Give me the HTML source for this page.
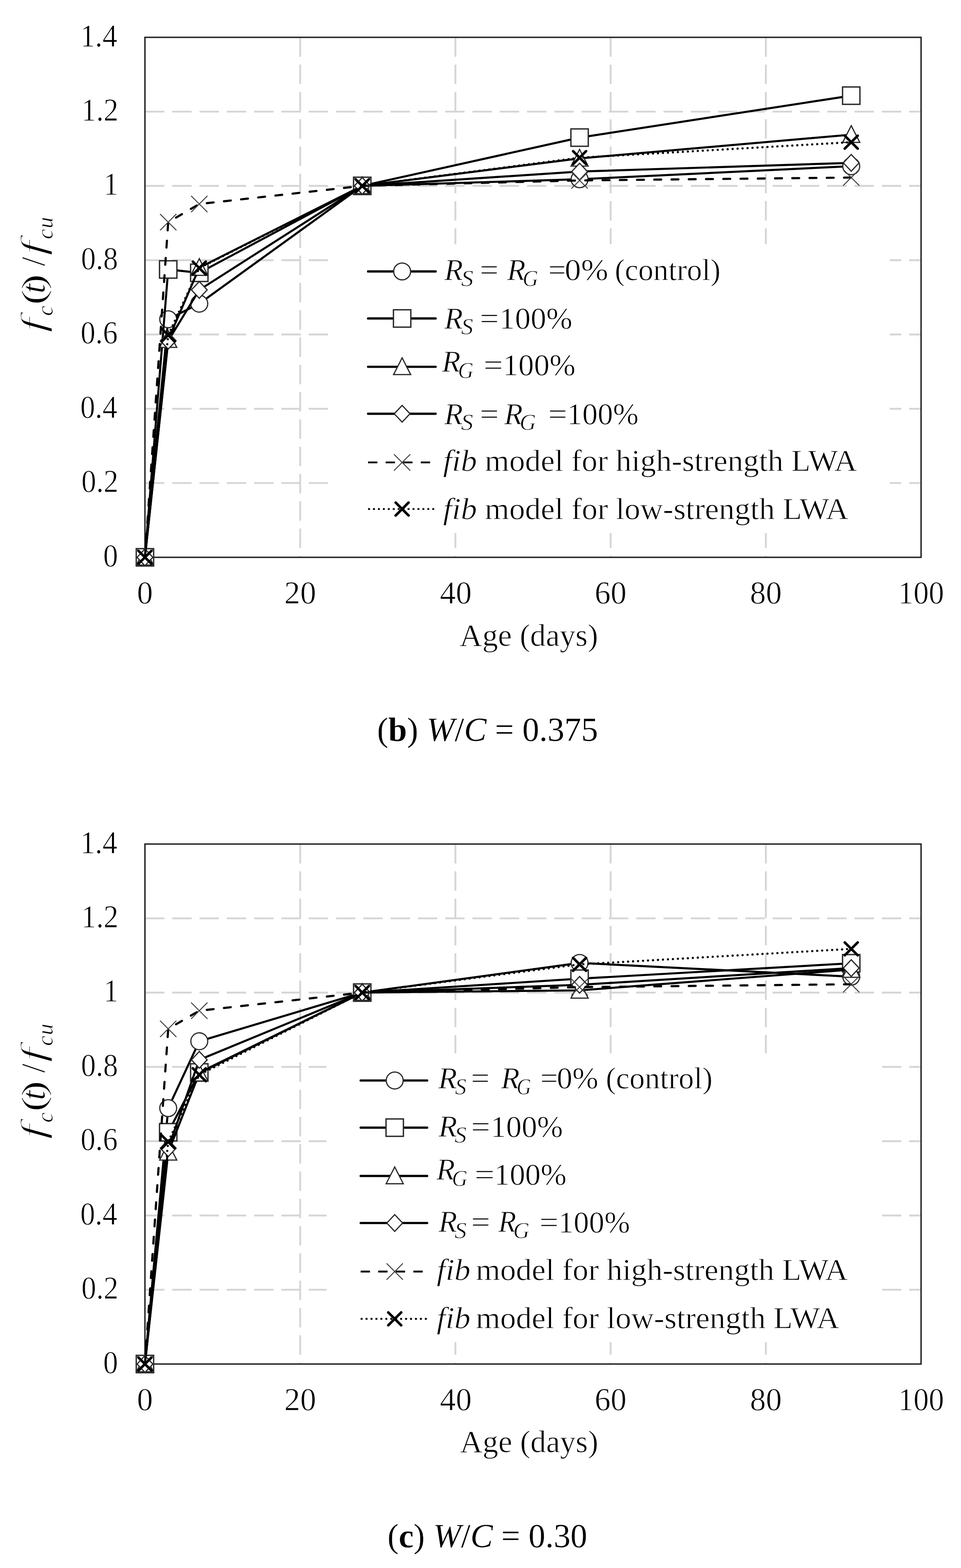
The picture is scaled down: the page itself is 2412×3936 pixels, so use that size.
<!DOCTYPE html>
<html><head><meta charset="utf-8"><title>Figure</title>
<style>
html,body{margin:0;padding:0;background:#fff;}
body{width:2412px;height:3936px;overflow:hidden;}
svg{display:block;}
.txt text{font-family:'Liberation Serif', 'Times New Roman', serif;fill:#000;stroke:#fff;stroke-width:1.1px;}
</style></head>
<body>
<svg width="2412" height="3936" viewBox="0 0 2412 3936">
<rect width="2412" height="3936" fill="#fff"/>
<line x1="363.8" y1="1212.5" x2="2311.8" y2="1212.5" stroke="#d5d5d5" stroke-width="4.6" stroke-dasharray="48.7 19.8"/>
<line x1="363.8" y1="1026.1" x2="2311.8" y2="1026.1" stroke="#d5d5d5" stroke-width="4.6" stroke-dasharray="48.7 19.8"/>
<line x1="363.8" y1="839.6" x2="2311.8" y2="839.6" stroke="#d5d5d5" stroke-width="4.6" stroke-dasharray="48.7 19.8"/>
<line x1="363.8" y1="653.1" x2="2311.8" y2="653.1" stroke="#d5d5d5" stroke-width="4.6" stroke-dasharray="48.7 19.8"/>
<line x1="363.8" y1="466.6" x2="2311.8" y2="466.6" stroke="#d5d5d5" stroke-width="4.6" stroke-dasharray="48.7 19.8"/>
<line x1="363.8" y1="280.2" x2="2311.8" y2="280.2" stroke="#d5d5d5" stroke-width="4.6" stroke-dasharray="48.7 19.8"/>
<line x1="753.4" y1="93.7" x2="753.4" y2="1399.0" stroke="#d5d5d5" stroke-width="4.6" stroke-dasharray="48.7 19.8"/>
<line x1="1143.0" y1="93.7" x2="1143.0" y2="1399.0" stroke="#d5d5d5" stroke-width="4.6" stroke-dasharray="48.7 19.8"/>
<line x1="1532.6" y1="93.7" x2="1532.6" y2="1399.0" stroke="#d5d5d5" stroke-width="4.6" stroke-dasharray="48.7 19.8"/>
<line x1="1922.2" y1="93.7" x2="1922.2" y2="1399.0" stroke="#d5d5d5" stroke-width="4.6" stroke-dasharray="48.7 19.8"/>
<rect x="839" y="613" width="1394" height="725" fill="#fff"/>
<rect x="363.8" y="93.7" width="1948.0" height="1305.3" fill="none" stroke="#262626" stroke-width="3.6"/>
<path d="M363.8 1399.0 L422.2 801.4 L500.2 762.2 L909.2 466.6 L1454.7 449.9 L2136.5 417.2" fill="none" stroke="#000" stroke-width="5.2" stroke-linejoin="round"/>
<circle cx="363.8" cy="1399.0" r="21.2" fill="#fff" stroke="#2a2a2a" stroke-width="3.0"/>
<circle cx="422.2" cy="801.4" r="21.2" fill="#fff" stroke="#2a2a2a" stroke-width="3.0"/>
<circle cx="500.2" cy="762.2" r="21.2" fill="#fff" stroke="#2a2a2a" stroke-width="3.0"/>
<circle cx="909.2" cy="466.6" r="21.2" fill="#fff" stroke="#2a2a2a" stroke-width="3.0"/>
<circle cx="1454.7" cy="449.9" r="21.2" fill="#fff" stroke="#2a2a2a" stroke-width="3.0"/>
<circle cx="2136.5" cy="417.2" r="21.2" fill="#fff" stroke="#2a2a2a" stroke-width="3.0"/>
<path d="M363.8 1399.0 L422.2 676.4 L500.2 684.8 L909.2 466.6 L1454.7 345.4 L2136.5 240.1" fill="none" stroke="#000" stroke-width="5.2" stroke-linejoin="round"/>
<rect x="342.0" y="1377.2" width="43.6" height="43.6" fill="#fff" stroke="#2a2a2a" stroke-width="3.4"/>
<rect x="400.4" y="654.6" width="43.6" height="43.6" fill="#fff" stroke="#2a2a2a" stroke-width="3.4"/>
<rect x="478.4" y="663.0" width="43.6" height="43.6" fill="#fff" stroke="#2a2a2a" stroke-width="3.4"/>
<rect x="887.4" y="444.8" width="43.6" height="43.6" fill="#fff" stroke="#2a2a2a" stroke-width="3.4"/>
<rect x="1432.9" y="323.6" width="43.6" height="43.6" fill="#fff" stroke="#2a2a2a" stroke-width="3.4"/>
<rect x="2114.7" y="218.3" width="43.6" height="43.6" fill="#fff" stroke="#2a2a2a" stroke-width="3.4"/>
<path d="M363.8 1399.0 L422.2 852.6 L500.2 671.8 L909.2 466.6 L1454.7 397.6 L2136.5 338.0" fill="none" stroke="#000" stroke-width="5.2" stroke-linejoin="round"/>
<path d="M363.8 1376.5 L385.3 1418.5 L342.3 1418.5 Z" fill="#fff" stroke="#2a2a2a" stroke-width="3.0"/>
<path d="M422.2 830.1 L443.7 872.1 L400.7 872.1 Z" fill="#fff" stroke="#2a2a2a" stroke-width="3.0"/>
<path d="M500.2 649.3 L521.7 691.3 L478.7 691.3 Z" fill="#fff" stroke="#2a2a2a" stroke-width="3.0"/>
<path d="M909.2 444.1 L930.7 486.1 L887.7 486.1 Z" fill="#fff" stroke="#2a2a2a" stroke-width="3.0"/>
<path d="M1454.7 375.1 L1476.2 417.1 L1433.2 417.1 Z" fill="#fff" stroke="#2a2a2a" stroke-width="3.0"/>
<path d="M2136.5 315.5 L2158.0 357.5 L2115.0 357.5 Z" fill="#fff" stroke="#2a2a2a" stroke-width="3.0"/>
<path d="M363.8 1399.0 L422.2 855.4 L500.2 727.7 L909.2 466.6 L1454.7 430.7 L2136.5 408.8" fill="none" stroke="#000" stroke-width="5.2" stroke-linejoin="round"/>
<path d="M363.8 1378.0 L383.6 1399.0 L363.8 1420.0 L344.0 1399.0 Z" fill="#fff" stroke="#2a2a2a" stroke-width="3.0"/>
<path d="M422.2 834.4 L442.0 855.4 L422.2 876.4 L402.4 855.4 Z" fill="#fff" stroke="#2a2a2a" stroke-width="3.0"/>
<path d="M500.2 706.7 L520.0 727.7 L500.2 748.7 L480.4 727.7 Z" fill="#fff" stroke="#2a2a2a" stroke-width="3.0"/>
<path d="M909.2 445.6 L929.0 466.6 L909.2 487.6 L889.4 466.6 Z" fill="#fff" stroke="#2a2a2a" stroke-width="3.0"/>
<path d="M1454.7 409.7 L1474.5 430.7 L1454.7 451.7 L1434.9 430.7 Z" fill="#fff" stroke="#2a2a2a" stroke-width="3.0"/>
<path d="M2136.5 387.8 L2156.3 408.8 L2136.5 429.8 L2116.7 408.8 Z" fill="#fff" stroke="#2a2a2a" stroke-width="3.0"/>
<path d="M363.8 1399.0 L422.2 557.7 L500.2 512.1 L909.2 466.6 L1454.7 452.9 L2136.5 445.7" fill="none" stroke="#000" stroke-width="5.4" stroke-dasharray="17.2 26.1" stroke-linecap="round" stroke-linejoin="round"/>
<path d="M343.3 1378.5 L384.3 1419.5 M384.3 1378.5 L343.3 1419.5" stroke="#404040" stroke-width="2.4" fill="none"/>
<path d="M401.7 537.2 L442.7 578.2 M442.7 537.2 L401.7 578.2" stroke="#404040" stroke-width="2.4" fill="none"/>
<path d="M479.7 491.6 L520.7 532.6 M520.7 491.6 L479.7 532.6" stroke="#404040" stroke-width="2.4" fill="none"/>
<path d="M888.7 446.1 L929.7 487.1 M929.7 446.1 L888.7 487.1" stroke="#404040" stroke-width="2.4" fill="none"/>
<path d="M1434.2 432.4 L1475.2 473.4 M1475.2 432.4 L1434.2 473.4" stroke="#404040" stroke-width="2.4" fill="none"/>
<path d="M2116.0 425.2 L2157.0 466.2 M2157.0 425.2 L2116.0 466.2" stroke="#404040" stroke-width="2.4" fill="none"/>
<path d="M363.8 1399.0 L422.2 841.2 L500.2 672.9 L909.2 466.6 L1454.7 395.8 L2136.5 356.9" fill="none" stroke="#000" stroke-width="5.6" stroke-dasharray="0.01 12.5" stroke-linecap="round" stroke-linejoin="round"/>
<path d="M347.6 1382.8 L380.0 1415.2 M380.0 1382.8 L347.6 1415.2" stroke="#000" stroke-width="6.4" stroke-linecap="round" fill="none"/>
<path d="M406.0 825.0 L438.4 857.4 M438.4 825.0 L406.0 857.4" stroke="#000" stroke-width="6.4" stroke-linecap="round" fill="none"/>
<path d="M484.0 656.7 L516.4 689.1 M516.4 656.7 L484.0 689.1" stroke="#000" stroke-width="6.4" stroke-linecap="round" fill="none"/>
<path d="M893.0 450.4 L925.4 482.8 M925.4 450.4 L893.0 482.8" stroke="#000" stroke-width="6.4" stroke-linecap="round" fill="none"/>
<path d="M1438.5 379.6 L1470.9 412.0 M1470.9 379.6 L1438.5 412.0" stroke="#000" stroke-width="6.4" stroke-linecap="round" fill="none"/>
<path d="M2120.3 340.7 L2152.7 373.1 M2152.7 340.7 L2120.3 373.1" stroke="#000" stroke-width="6.4" stroke-linecap="round" fill="none"/>
<line x1="923.8" y1="681.4" x2="1093.4" y2="681.4" stroke="#000" stroke-width="5.6" stroke-linecap="round"/>
<circle cx="1009.3" cy="681.4" r="21.2" fill="#fff" stroke="#2a2a2a" stroke-width="3.0"/>
<line x1="923.8" y1="799.4" x2="1093.4" y2="799.4" stroke="#000" stroke-width="5.6" stroke-linecap="round"/>
<rect x="987.5" y="777.6" width="43.6" height="43.6" fill="#fff" stroke="#2a2a2a" stroke-width="3.4"/>
<line x1="923.8" y1="920.8" x2="1093.4" y2="920.8" stroke="#000" stroke-width="5.6" stroke-linecap="round"/>
<path d="M1009.3 898.3 L1030.8 940.3 L987.8 940.3 Z" fill="#fff" stroke="#2a2a2a" stroke-width="3.0"/>
<line x1="923.8" y1="1038.6" x2="1093.4" y2="1038.6" stroke="#000" stroke-width="5.6" stroke-linecap="round"/>
<path d="M1009.3 1017.6 L1029.1 1038.6 L1009.3 1059.6 L989.5 1038.6 Z" fill="#fff" stroke="#2a2a2a" stroke-width="3.0"/>
<line x1="923.8" y1="1160.8" x2="1093.4" y2="1160.8" stroke="#000" stroke-width="4.6" stroke-dasharray="23.4 20.7"/>
<path d="M988.8 1140.3 L1029.8 1181.3 M1029.8 1140.3 L988.8 1181.3" stroke="#404040" stroke-width="2.4" fill="none"/>
<line x1="923.8" y1="1277.8" x2="1093.4" y2="1277.8" stroke="#000" stroke-width="4.6" stroke-dasharray="4.8 7.6"/>
<path d="M993.1 1261.6 L1025.5 1294.0 M1025.5 1261.6 L993.1 1294.0" stroke="#000" stroke-width="6.4" stroke-linecap="round" fill="none"/>
<line x1="363.8" y1="3237.5" x2="2311.8" y2="3237.5" stroke="#d5d5d5" stroke-width="4.6" stroke-dasharray="48.7 19.8"/>
<line x1="363.8" y1="3051.1" x2="2311.8" y2="3051.1" stroke="#d5d5d5" stroke-width="4.6" stroke-dasharray="48.7 19.8"/>
<line x1="363.8" y1="2864.6" x2="2311.8" y2="2864.6" stroke="#d5d5d5" stroke-width="4.6" stroke-dasharray="48.7 19.8"/>
<line x1="363.8" y1="2678.1" x2="2311.8" y2="2678.1" stroke="#d5d5d5" stroke-width="4.6" stroke-dasharray="48.7 19.8"/>
<line x1="363.8" y1="2491.6" x2="2311.8" y2="2491.6" stroke="#d5d5d5" stroke-width="4.6" stroke-dasharray="48.7 19.8"/>
<line x1="363.8" y1="2305.2" x2="2311.8" y2="2305.2" stroke="#d5d5d5" stroke-width="4.6" stroke-dasharray="48.7 19.8"/>
<line x1="753.4" y1="2118.7" x2="753.4" y2="3424.0" stroke="#d5d5d5" stroke-width="4.6" stroke-dasharray="48.7 19.8"/>
<line x1="1143.0" y1="2118.7" x2="1143.0" y2="3424.0" stroke="#d5d5d5" stroke-width="4.6" stroke-dasharray="48.7 19.8"/>
<line x1="1532.6" y1="2118.7" x2="1532.6" y2="3424.0" stroke="#d5d5d5" stroke-width="4.6" stroke-dasharray="48.7 19.8"/>
<line x1="1922.2" y1="2118.7" x2="1922.2" y2="3424.0" stroke="#d5d5d5" stroke-width="4.6" stroke-dasharray="48.7 19.8"/>
<rect x="819.5" y="2644.0" width="1394.5" height="725.0" fill="#fff"/>
<rect x="363.8" y="2118.7" width="1948.0" height="1305.3" fill="none" stroke="#262626" stroke-width="3.6"/>
<path d="M363.8 3424.0 L422.2 2781.6 L500.2 2613.8 L909.2 2491.6 L1454.7 2417.1 L2136.5 2451.6" fill="none" stroke="#000" stroke-width="5.2" stroke-linejoin="round"/>
<circle cx="363.8" cy="3424.0" r="21.2" fill="#fff" stroke="#2a2a2a" stroke-width="3.0"/>
<circle cx="422.2" cy="2781.6" r="21.2" fill="#fff" stroke="#2a2a2a" stroke-width="3.0"/>
<circle cx="500.2" cy="2613.8" r="21.2" fill="#fff" stroke="#2a2a2a" stroke-width="3.0"/>
<circle cx="909.2" cy="2491.6" r="21.2" fill="#fff" stroke="#2a2a2a" stroke-width="3.0"/>
<circle cx="1454.7" cy="2417.1" r="21.2" fill="#fff" stroke="#2a2a2a" stroke-width="3.0"/>
<circle cx="2136.5" cy="2451.6" r="21.2" fill="#fff" stroke="#2a2a2a" stroke-width="3.0"/>
<path d="M363.8 3424.0 L422.2 2842.2 L500.2 2692.1 L909.2 2491.6 L1454.7 2456.7 L2136.5 2418.0" fill="none" stroke="#000" stroke-width="5.2" stroke-linejoin="round"/>
<rect x="342.0" y="3402.2" width="43.6" height="43.6" fill="#fff" stroke="#2a2a2a" stroke-width="3.4"/>
<rect x="400.4" y="2820.4" width="43.6" height="43.6" fill="#fff" stroke="#2a2a2a" stroke-width="3.4"/>
<rect x="478.4" y="2670.3" width="43.6" height="43.6" fill="#fff" stroke="#2a2a2a" stroke-width="3.4"/>
<rect x="887.4" y="2469.8" width="43.6" height="43.6" fill="#fff" stroke="#2a2a2a" stroke-width="3.4"/>
<rect x="1432.9" y="2434.9" width="43.6" height="43.6" fill="#fff" stroke="#2a2a2a" stroke-width="3.4"/>
<rect x="2114.7" y="2396.2" width="43.6" height="43.6" fill="#fff" stroke="#2a2a2a" stroke-width="3.4"/>
<path d="M363.8 3424.0 L422.2 2892.6 L500.2 2694.0 L909.2 2491.6 L1454.7 2486.0 L2136.5 2433.8" fill="none" stroke="#000" stroke-width="5.2" stroke-linejoin="round"/>
<path d="M363.8 3401.5 L385.3 3443.5 L342.3 3443.5 Z" fill="#fff" stroke="#2a2a2a" stroke-width="3.0"/>
<path d="M422.2 2870.1 L443.7 2912.1 L400.7 2912.1 Z" fill="#fff" stroke="#2a2a2a" stroke-width="3.0"/>
<path d="M500.2 2671.5 L521.7 2713.5 L478.7 2713.5 Z" fill="#fff" stroke="#2a2a2a" stroke-width="3.0"/>
<path d="M909.2 2469.1 L930.7 2511.1 L887.7 2511.1 Z" fill="#fff" stroke="#2a2a2a" stroke-width="3.0"/>
<path d="M1454.7 2463.5 L1476.2 2505.5 L1433.2 2505.5 Z" fill="#fff" stroke="#2a2a2a" stroke-width="3.0"/>
<path d="M2136.5 2411.3 L2158.0 2453.3 L2115.0 2453.3 Z" fill="#fff" stroke="#2a2a2a" stroke-width="3.0"/>
<path d="M363.8 3424.0 L422.2 2882.3 L500.2 2660.4 L909.2 2491.6 L1454.7 2472.1 L2136.5 2430.1" fill="none" stroke="#000" stroke-width="5.2" stroke-linejoin="round"/>
<path d="M363.8 3403.0 L383.6 3424.0 L363.8 3445.0 L344.0 3424.0 Z" fill="#fff" stroke="#2a2a2a" stroke-width="3.0"/>
<path d="M422.2 2861.3 L442.0 2882.3 L422.2 2903.3 L402.4 2882.3 Z" fill="#fff" stroke="#2a2a2a" stroke-width="3.0"/>
<path d="M500.2 2639.4 L520.0 2660.4 L500.2 2681.4 L480.4 2660.4 Z" fill="#fff" stroke="#2a2a2a" stroke-width="3.0"/>
<path d="M909.2 2470.6 L929.0 2491.6 L909.2 2512.6 L889.4 2491.6 Z" fill="#fff" stroke="#2a2a2a" stroke-width="3.0"/>
<path d="M1454.7 2451.1 L1474.5 2472.1 L1454.7 2493.1 L1434.9 2472.1 Z" fill="#fff" stroke="#2a2a2a" stroke-width="3.0"/>
<path d="M2136.5 2409.1 L2156.3 2430.1 L2136.5 2451.1 L2116.7 2430.1 Z" fill="#fff" stroke="#2a2a2a" stroke-width="3.0"/>
<path d="M363.8 3424.0 L422.2 2582.7 L500.2 2537.1 L909.2 2491.6 L1454.7 2477.9 L2136.5 2470.7" fill="none" stroke="#000" stroke-width="5.4" stroke-dasharray="17.2 26.1" stroke-linecap="round" stroke-linejoin="round"/>
<path d="M343.3 3403.5 L384.3 3444.5 M384.3 3403.5 L343.3 3444.5" stroke="#404040" stroke-width="2.4" fill="none"/>
<path d="M401.7 2562.2 L442.7 2603.2 M442.7 2562.2 L401.7 2603.2" stroke="#404040" stroke-width="2.4" fill="none"/>
<path d="M479.7 2516.6 L520.7 2557.6 M520.7 2516.6 L479.7 2557.6" stroke="#404040" stroke-width="2.4" fill="none"/>
<path d="M888.7 2471.1 L929.7 2512.1 M929.7 2471.1 L888.7 2512.1" stroke="#404040" stroke-width="2.4" fill="none"/>
<path d="M1434.2 2457.4 L1475.2 2498.4 M1475.2 2457.4 L1434.2 2498.4" stroke="#404040" stroke-width="2.4" fill="none"/>
<path d="M2116.0 2450.2 L2157.0 2491.2 M2157.0 2450.2 L2116.0 2491.2" stroke="#404040" stroke-width="2.4" fill="none"/>
<path d="M363.8 3424.0 L422.2 2866.2 L500.2 2697.9 L909.2 2491.6 L1454.7 2420.8 L2136.5 2381.9" fill="none" stroke="#000" stroke-width="5.6" stroke-dasharray="0.01 12.5" stroke-linecap="round" stroke-linejoin="round"/>
<path d="M347.6 3407.8 L380.0 3440.2 M380.0 3407.8 L347.6 3440.2" stroke="#000" stroke-width="6.4" stroke-linecap="round" fill="none"/>
<path d="M406.0 2850.0 L438.4 2882.4 M438.4 2850.0 L406.0 2882.4" stroke="#000" stroke-width="6.4" stroke-linecap="round" fill="none"/>
<path d="M484.0 2681.7 L516.4 2714.1 M516.4 2681.7 L484.0 2714.1" stroke="#000" stroke-width="6.4" stroke-linecap="round" fill="none"/>
<path d="M893.0 2475.4 L925.4 2507.8 M925.4 2475.4 L893.0 2507.8" stroke="#000" stroke-width="6.4" stroke-linecap="round" fill="none"/>
<path d="M1438.5 2404.6 L1470.9 2437.0 M1470.9 2404.6 L1438.5 2437.0" stroke="#000" stroke-width="6.4" stroke-linecap="round" fill="none"/>
<path d="M2120.3 2365.7 L2152.7 2398.1 M2152.7 2365.7 L2120.3 2398.1" stroke="#000" stroke-width="6.4" stroke-linecap="round" fill="none"/>
<line x1="905.2" y1="2712.2" x2="1072.1" y2="2712.2" stroke="#000" stroke-width="5.6" stroke-linecap="round"/>
<circle cx="990.7" cy="2712.2" r="21.2" fill="#fff" stroke="#2a2a2a" stroke-width="3.0"/>
<line x1="905.2" y1="2830.6" x2="1072.1" y2="2830.6" stroke="#000" stroke-width="5.6" stroke-linecap="round"/>
<rect x="968.9" y="2808.8" width="43.6" height="43.6" fill="#fff" stroke="#2a2a2a" stroke-width="3.4"/>
<line x1="905.2" y1="2951.9" x2="1072.1" y2="2951.9" stroke="#000" stroke-width="5.6" stroke-linecap="round"/>
<path d="M990.7 2929.4 L1012.2 2971.4 L969.2 2971.4 Z" fill="#fff" stroke="#2a2a2a" stroke-width="3.0"/>
<line x1="905.2" y1="3070.0" x2="1072.1" y2="3070.0" stroke="#000" stroke-width="5.6" stroke-linecap="round"/>
<path d="M990.7 3049.0 L1010.5 3070.0 L990.7 3091.0 L970.9 3070.0 Z" fill="#fff" stroke="#2a2a2a" stroke-width="3.0"/>
<line x1="905.2" y1="3191.9" x2="1072.1" y2="3191.9" stroke="#000" stroke-width="4.6" stroke-dasharray="23.4 20.7"/>
<path d="M970.2 3171.4 L1011.2 3212.4 M1011.2 3171.4 L970.2 3212.4" stroke="#404040" stroke-width="2.4" fill="none"/>
<line x1="905.2" y1="3310.6" x2="1072.1" y2="3310.6" stroke="#000" stroke-width="4.6" stroke-dasharray="4.8 7.6"/>
<path d="M974.5 3294.4 L1006.9 3326.8 M1006.9 3294.4 L974.5 3326.8" stroke="#000" stroke-width="6.4" stroke-linecap="round" fill="none"/>
<g class="txt">
<text x="259.09" y="1421.80" font-size="80" textLength="37.20" lengthAdjust="spacingAndGlyphs">0</text>
<text x="204.22" y="1235.33" font-size="80" textLength="93.00" lengthAdjust="spacingAndGlyphs">0.2</text>
<text x="201.43" y="1048.86" font-size="80" textLength="93.00" lengthAdjust="spacingAndGlyphs">0.4</text>
<text x="202.36" y="862.39" font-size="80" textLength="93.00" lengthAdjust="spacingAndGlyphs">0.6</text>
<text x="203.29" y="675.91" font-size="80" textLength="93.00" lengthAdjust="spacingAndGlyphs">0.8</text>
<text x="260.02" y="489.44" font-size="80" textLength="37.20" lengthAdjust="spacingAndGlyphs">1</text>
<text x="204.22" y="302.97" font-size="80" textLength="93.00" lengthAdjust="spacingAndGlyphs">1.2</text>
<text x="201.43" y="116.50" font-size="80" textLength="93.00" lengthAdjust="spacingAndGlyphs">1.4</text>
<text x="343.80" y="1515.00" font-size="80" textLength="40.00" lengthAdjust="spacingAndGlyphs">0</text>
<text x="713.40" y="1515.00" font-size="80" textLength="80.00" lengthAdjust="spacingAndGlyphs">20</text>
<text x="1104.00" y="1515.00" font-size="80" textLength="80.00" lengthAdjust="spacingAndGlyphs">40</text>
<text x="1492.60" y="1515.00" font-size="80" textLength="80.00" lengthAdjust="spacingAndGlyphs">60</text>
<text x="1882.20" y="1515.00" font-size="80" textLength="80.00" lengthAdjust="spacingAndGlyphs">80</text>
<text x="2254.28" y="1515.00" font-size="80" textLength="115.20" lengthAdjust="spacingAndGlyphs">100</text>
<text x="259.09" y="3446.80" font-size="80" textLength="37.20" lengthAdjust="spacingAndGlyphs">0</text>
<text x="204.22" y="3260.33" font-size="80" textLength="93.00" lengthAdjust="spacingAndGlyphs">0.2</text>
<text x="201.43" y="3073.86" font-size="80" textLength="93.00" lengthAdjust="spacingAndGlyphs">0.4</text>
<text x="202.36" y="2887.39" font-size="80" textLength="93.00" lengthAdjust="spacingAndGlyphs">0.6</text>
<text x="203.29" y="2700.91" font-size="80" textLength="93.00" lengthAdjust="spacingAndGlyphs">0.8</text>
<text x="260.02" y="2514.44" font-size="80" textLength="37.20" lengthAdjust="spacingAndGlyphs">1</text>
<text x="204.22" y="2327.97" font-size="80" textLength="93.00" lengthAdjust="spacingAndGlyphs">1.2</text>
<text x="201.43" y="2141.50" font-size="80" textLength="93.00" lengthAdjust="spacingAndGlyphs">1.4</text>
<text x="343.80" y="3540.00" font-size="80" textLength="40.00" lengthAdjust="spacingAndGlyphs">0</text>
<text x="713.40" y="3540.00" font-size="80" textLength="80.00" lengthAdjust="spacingAndGlyphs">20</text>
<text x="1104.00" y="3540.00" font-size="80" textLength="80.00" lengthAdjust="spacingAndGlyphs">40</text>
<text x="1492.60" y="3540.00" font-size="80" textLength="80.00" lengthAdjust="spacingAndGlyphs">60</text>
<text x="1882.20" y="3540.00" font-size="80" textLength="80.00" lengthAdjust="spacingAndGlyphs">80</text>
<text x="2254.28" y="3540.00" font-size="80" textLength="115.20" lengthAdjust="spacingAndGlyphs">100</text>
<text x="1153.60" y="1621.30" font-size="79" textLength="347.50" lengthAdjust="spacingAndGlyphs">Age (days)</text>
<text x="1154.60" y="3645.40" font-size="79" textLength="346.99" lengthAdjust="spacingAndGlyphs">Age (days)</text>
<text x="1115.29" y="702.50" font-size="77" font-style="italic" textLength="46.73" lengthAdjust="spacingAndGlyphs">R</text>
<text x="1157.20" y="717.50" font-size="56" font-style="italic" textLength="31.00" lengthAdjust="spacingAndGlyphs">S</text>
<text x="1204.02" y="702.50" font-size="77" textLength="47.53" lengthAdjust="spacingAndGlyphs">=</text>
<text x="1272.69" y="702.50" font-size="77" font-style="italic" textLength="46.33" lengthAdjust="spacingAndGlyphs">R</text>
<text x="1311.70" y="717.50" font-size="56" font-style="italic" textLength="39.13" lengthAdjust="spacingAndGlyphs">G</text>
<text x="1375.91" y="702.50" font-size="77" textLength="44.72" lengthAdjust="spacingAndGlyphs">=</text>
<text x="1417.37" y="702.50" font-size="77" textLength="109.31" lengthAdjust="spacingAndGlyphs">0%</text>
<text x="1542.94" y="702.50" font-size="77" textLength="265.46" lengthAdjust="spacingAndGlyphs">(control)</text>
<text x="1115.29" y="825.10" font-size="77" font-style="italic" textLength="46.53" lengthAdjust="spacingAndGlyphs">R</text>
<text x="1157.20" y="839.40" font-size="56" font-style="italic" textLength="30.40" lengthAdjust="spacingAndGlyphs">S</text>
<text x="1203.97" y="825.10" font-size="77" textLength="48.24" lengthAdjust="spacingAndGlyphs">=</text>
<text x="1253.07" y="825.10" font-size="77" textLength="183.52" lengthAdjust="spacingAndGlyphs">100%</text>
<text x="1109.29" y="932.70" font-size="77" font-style="italic" textLength="46.53" lengthAdjust="spacingAndGlyphs">R</text>
<text x="1149.61" y="949.40" font-size="56" font-style="italic" textLength="39.02" lengthAdjust="spacingAndGlyphs">G</text>
<text x="1213.41" y="941.50" font-size="77" textLength="49.06" lengthAdjust="spacingAndGlyphs">=</text>
<text x="1262.01" y="942.30" font-size="77" textLength="182.37" lengthAdjust="spacingAndGlyphs">100%</text>
<text x="1115.29" y="1065.10" font-size="77" font-style="italic" textLength="46.53" lengthAdjust="spacingAndGlyphs">R</text>
<text x="1157.00" y="1079.40" font-size="56" font-style="italic" textLength="30.60" lengthAdjust="spacingAndGlyphs">S</text>
<text x="1203.97" y="1065.10" font-size="77" textLength="48.24" lengthAdjust="spacingAndGlyphs">=</text>
<text x="1265.49" y="1065.10" font-size="77" font-style="italic" textLength="46.53" lengthAdjust="spacingAndGlyphs">R</text>
<text x="1304.35" y="1079.40" font-size="56" font-style="italic" textLength="41.10" lengthAdjust="spacingAndGlyphs">G</text>
<text x="1375.68" y="1065.10" font-size="77" textLength="48.12" lengthAdjust="spacingAndGlyphs">=</text>
<text x="1422.99" y="1065.10" font-size="77" textLength="179.85" lengthAdjust="spacingAndGlyphs">100%</text>
<text x="1111.90" y="1181.50" font-size="77" font-style="italic" textLength="85.07" lengthAdjust="spacingAndGlyphs">fib</text>
<text x="1216.88" y="1181.50" font-size="77" textLength="934.22" lengthAdjust="spacingAndGlyphs">model for high-strength LWA</text>
<text x="1111.90" y="1303.40" font-size="77" font-style="italic" textLength="85.07" lengthAdjust="spacingAndGlyphs">fib</text>
<text x="1216.87" y="1303.40" font-size="77" textLength="912.72" lengthAdjust="spacingAndGlyphs">model for low-strength LWA</text>
<text x="1100.00" y="2731.50" font-size="77" font-style="italic" textLength="47.03" lengthAdjust="spacingAndGlyphs">R</text>
<text x="1142.00" y="2746.50" font-size="56" font-style="italic" textLength="28.60" lengthAdjust="spacingAndGlyphs">S</text>
<text x="1181.72" y="2731.50" font-size="77" textLength="47.42" lengthAdjust="spacingAndGlyphs">=</text>
<text x="1257.39" y="2731.50" font-size="77" font-style="italic" textLength="46.63" lengthAdjust="spacingAndGlyphs">R</text>
<text x="1296.70" y="2746.50" font-size="56" font-style="italic" textLength="36.40" lengthAdjust="spacingAndGlyphs">G</text>
<text x="1355.92" y="2731.50" font-size="77" textLength="44.60" lengthAdjust="spacingAndGlyphs">=</text>
<text x="1397.47" y="2731.50" font-size="77" textLength="104.31" lengthAdjust="spacingAndGlyphs">0%</text>
<text x="1520.52" y="2731.50" font-size="77" textLength="267.91" lengthAdjust="spacingAndGlyphs">(control)</text>
<text x="1100.69" y="2853.00" font-size="77" font-style="italic" textLength="46.53" lengthAdjust="spacingAndGlyphs">R</text>
<text x="1140.80" y="2868.40" font-size="56" font-style="italic" textLength="30.40" lengthAdjust="spacingAndGlyphs">S</text>
<text x="1182.17" y="2853.50" font-size="77" textLength="48.24" lengthAdjust="spacingAndGlyphs">=</text>
<text x="1231.33" y="2854.00" font-size="77" textLength="181.63" lengthAdjust="spacingAndGlyphs">100%</text>
<text x="1095.29" y="2961.30" font-size="77" font-style="italic" textLength="46.53" lengthAdjust="spacingAndGlyphs">R</text>
<text x="1134.30" y="2977.40" font-size="56" font-style="italic" textLength="39.13" lengthAdjust="spacingAndGlyphs">G</text>
<text x="1190.91" y="2973.50" font-size="77" textLength="50.47" lengthAdjust="spacingAndGlyphs">=</text>
<text x="1240.23" y="2973.90" font-size="77" textLength="181.74" lengthAdjust="spacingAndGlyphs">100%</text>
<text x="1100.69" y="3092.30" font-size="77" font-style="italic" textLength="46.53" lengthAdjust="spacingAndGlyphs">R</text>
<text x="1140.80" y="3107.50" font-size="56" font-style="italic" textLength="30.40" lengthAdjust="spacingAndGlyphs">S</text>
<text x="1182.17" y="3093.00" font-size="77" textLength="48.24" lengthAdjust="spacingAndGlyphs">=</text>
<text x="1250.85" y="3092.30" font-size="77" font-style="italic" textLength="44.73" lengthAdjust="spacingAndGlyphs">R</text>
<text x="1287.95" y="3107.50" font-size="56" font-style="italic" textLength="41.10" lengthAdjust="spacingAndGlyphs">G</text>
<text x="1353.87" y="3093.50" font-size="77" textLength="48.24" lengthAdjust="spacingAndGlyphs">=</text>
<text x="1401.29" y="3094.00" font-size="77" textLength="179.85" lengthAdjust="spacingAndGlyphs">100%</text>
<text x="1095.90" y="3213.40" font-size="77" font-style="italic" textLength="84.97" lengthAdjust="spacingAndGlyphs">fib</text>
<text x="1194.18" y="3213.40" font-size="77" textLength="933.82" lengthAdjust="spacingAndGlyphs">model for high-strength LWA</text>
<text x="1095.90" y="3334.00" font-size="77" font-style="italic" textLength="84.97" lengthAdjust="spacingAndGlyphs">fib</text>
<text x="1194.18" y="3334.00" font-size="77" textLength="912.22" lengthAdjust="spacingAndGlyphs">model for low-strength LWA</text>
<text x="946.4" y="1860.0" font-size="84" style="stroke-width:0.3px" textLength="554.6" lengthAdjust="spacingAndGlyphs">(<tspan font-weight="bold">b</tspan>) <tspan font-style="italic">W</tspan>/<tspan font-style="italic">C</tspan> = 0.375</text>
<text x="972.6" y="3883.5" font-size="84" style="stroke-width:0.3px" textLength="501.4" lengthAdjust="spacingAndGlyphs">(<tspan font-weight="bold">c</tspan>) <tspan font-style="italic">W</tspan>/<tspan font-style="italic">C</tspan> = 0.30</text>
<text transform="translate(112.0 816.7) rotate(-90) scale(1.6 1)" text-anchor="middle" font-size="86" font-style="italic" style="stroke-width:2.4px">f</text>
<text transform="translate(132.0 780.0) rotate(-90)" text-anchor="middle" font-size="58" font-style="italic">c</text>
<text transform="translate(112.0 745.9) rotate(-90) scale(1.45 1)" text-anchor="middle" font-size="84" font-style="normal" style="stroke-width:1.8px">(</text>
<text transform="translate(112.0 724.5) rotate(-90) scale(1.05 1)" text-anchor="middle" font-size="84" font-style="italic">t</text>
<text transform="translate(112.0 707.5) rotate(-90) scale(1.45 1)" text-anchor="middle" font-size="84" font-style="normal" style="stroke-width:1.8px">)</text>
<text transform="translate(112.0 656.4) rotate(-90)" text-anchor="middle" font-size="84" font-style="normal">/</text>
<text transform="translate(112.0 623.5) rotate(-90) scale(1.6 1)" text-anchor="middle" font-size="86" font-style="italic" style="stroke-width:2.4px">f</text>
<text transform="translate(132.0 587.5) rotate(-90)" text-anchor="middle" font-size="58" font-style="italic">c</text>
<text transform="translate(132.0 559.1) rotate(-90)" text-anchor="middle" font-size="58" font-style="italic">u</text>
<text transform="translate(112.0 2841.7) rotate(-90) scale(1.6 1)" text-anchor="middle" font-size="86" font-style="italic" style="stroke-width:2.4px">f</text>
<text transform="translate(132.0 2805.0) rotate(-90)" text-anchor="middle" font-size="58" font-style="italic">c</text>
<text transform="translate(112.0 2770.9) rotate(-90) scale(1.45 1)" text-anchor="middle" font-size="84" font-style="normal" style="stroke-width:1.8px">(</text>
<text transform="translate(112.0 2749.5) rotate(-90) scale(1.05 1)" text-anchor="middle" font-size="84" font-style="italic">t</text>
<text transform="translate(112.0 2732.5) rotate(-90) scale(1.45 1)" text-anchor="middle" font-size="84" font-style="normal" style="stroke-width:1.8px">)</text>
<text transform="translate(112.0 2681.4) rotate(-90)" text-anchor="middle" font-size="84" font-style="normal">/</text>
<text transform="translate(112.0 2648.5) rotate(-90) scale(1.6 1)" text-anchor="middle" font-size="86" font-style="italic" style="stroke-width:2.4px">f</text>
<text transform="translate(132.0 2612.5) rotate(-90)" text-anchor="middle" font-size="58" font-style="italic">c</text>
<text transform="translate(132.0 2584.1) rotate(-90)" text-anchor="middle" font-size="58" font-style="italic">u</text>
</g>
</svg>
</body></html>
